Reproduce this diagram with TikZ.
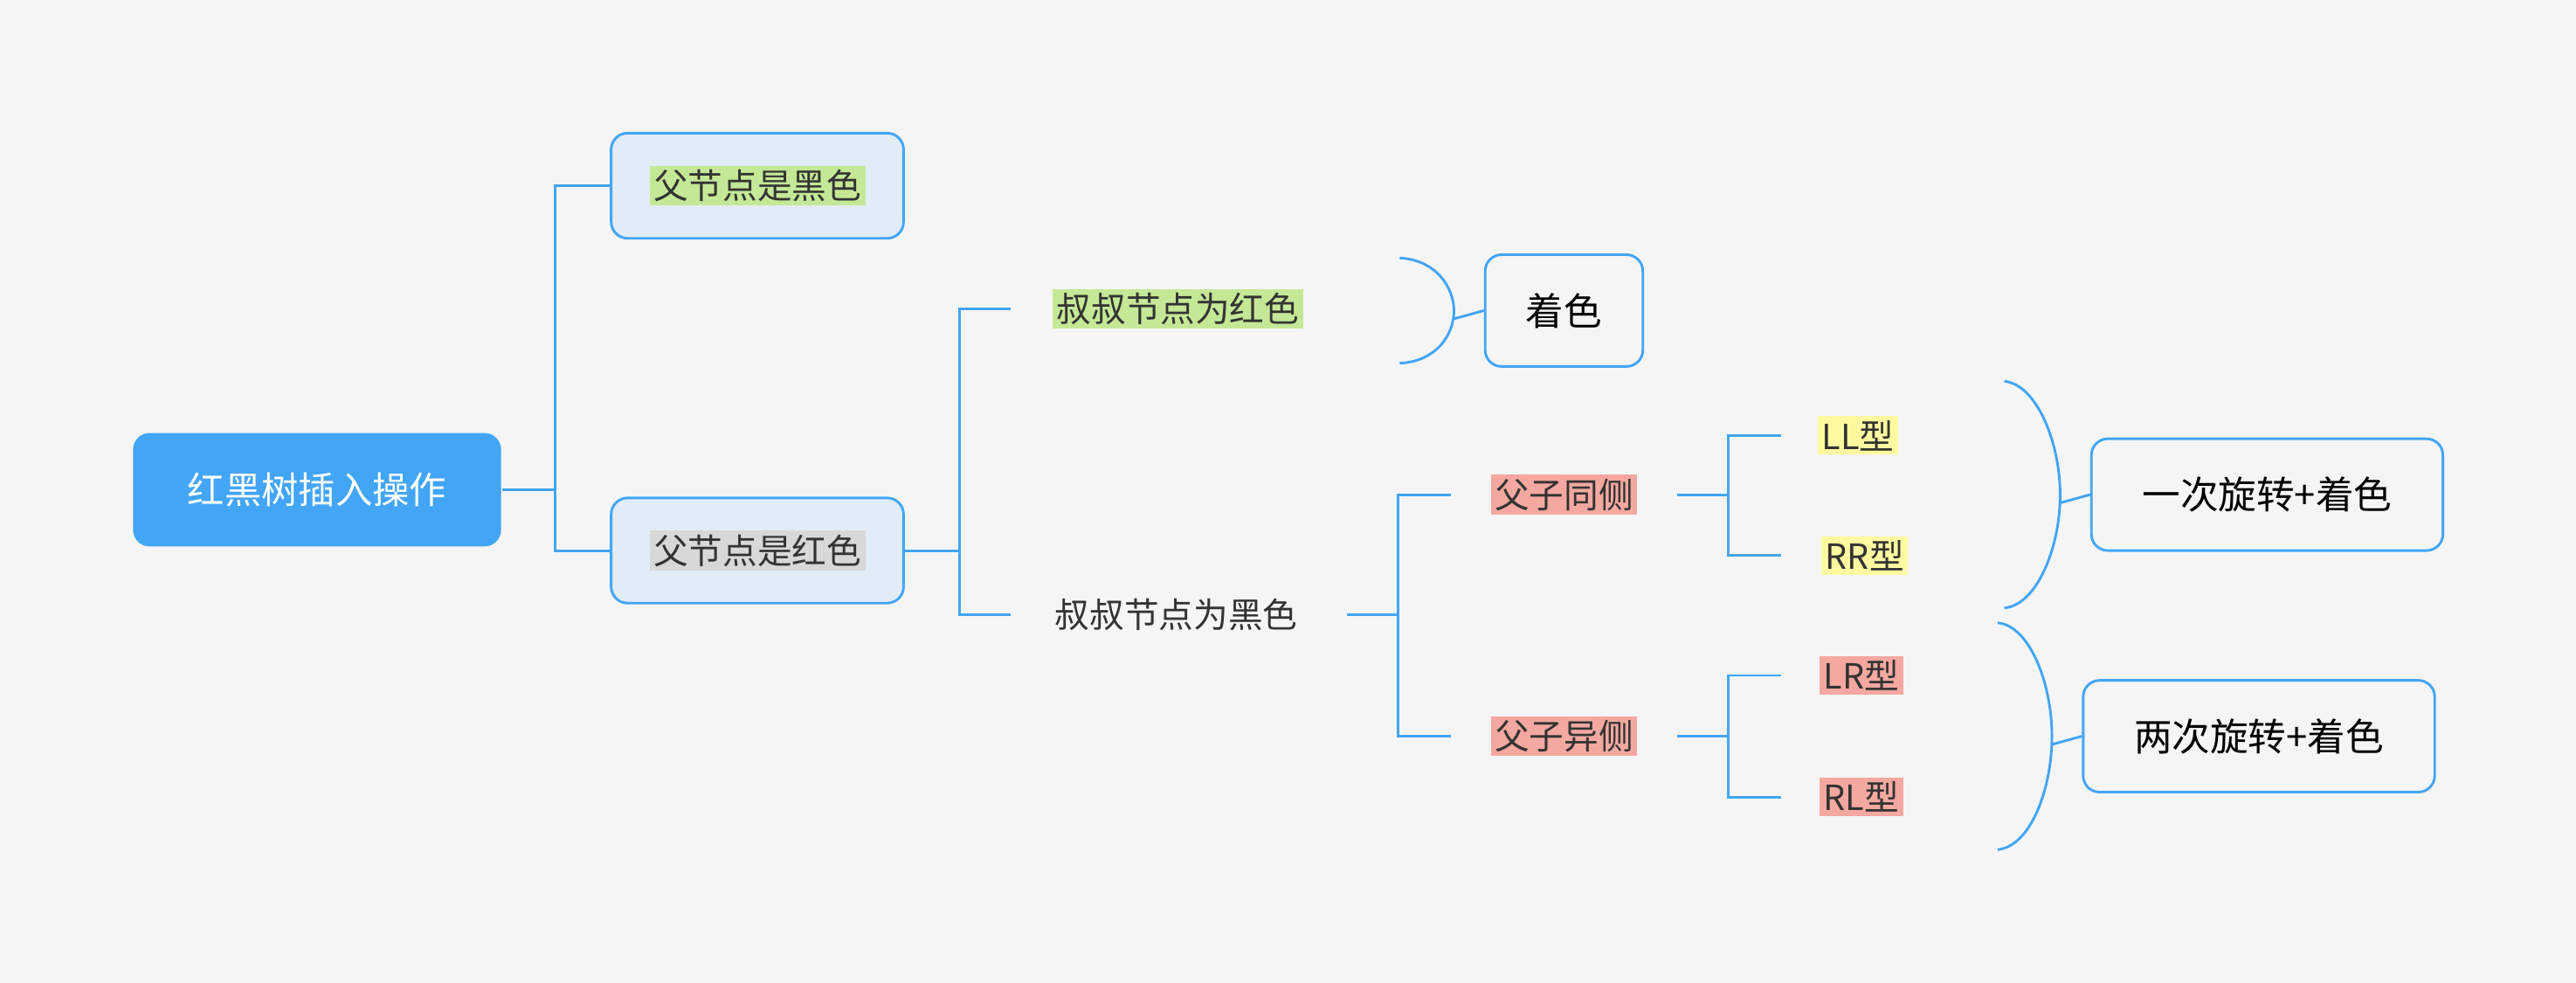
\documentclass[tikz,border=0pt]{standalone}
\usepackage{fontspec}
\newfontfamily\cjk{Noto Sans CJK SC}
\usetikzlibrary{positioning, calc}
\definecolor{lineblue}{RGB}{66,165,245}
\definecolor{boxfill}{RGB}{226,236,246}
\definecolor{bg}{RGB}{245,245,245}
\definecolor{hlgreen}{RGB}{197,232,150}
\definecolor{hlgray}{RGB}{216,216,216}
\definecolor{hlred}{RGB}{244,168,160}
\definecolor{hlyellow}{RGB}{255,250,160}
\begin{document}
\begin{tikzpicture}[x=0.5mm, y=-0.5mm, line width=1.6pt, font=\cjk\fontsize{30}{36}\selectfont]
    \tikzstyle{link} = [draw=lineblue, line width=2.2pt]
    \tikzstyle{root} = [rounded corners=5mm, fill=lineblue, text=white, minimum width=112mm, minimum height=34.5mm, font=\cjk\fontsize{32}{38}\selectfont]
    \tikzstyle{sub} = [rounded corners=5mm, draw=lineblue, line width=2.2pt, fill=boxfill, minimum width=89mm, minimum height=32mm]
    \tikzstyle{result} = [rounded corners=5mm, draw=lineblue, line width=2.2pt, fill=bg, minimum height=34mm, font=\cjk\fontsize{33}{40}\selectfont]
    \tikzstyle{tag} = [inner sep=1.2mm, text=black!80]

    % background and margins
    \fill[bg] (0,0) rectangle (1568,598);

    % root and first level
    \node[root] (root) at (193,298) {红黑树插入操作};
    \node[sub] (black) at (461,113) {};
    \node[tag, fill=hlgreen] (blackt) at (461,113) {父节点是黑色};
    \node[sub] (red) at (461,335) {};
    \node[tag, fill=hlgray] (redt) at (461,335) {父节点是红色};

    % second level
    \node[tag, fill=hlgreen] (uncler) at (717,188) {叔叔节点为红色};
    \node[tag] (uncleb) at (716,374) {叔叔节点为黑色};
    \node[result, minimum width=48mm] (color) at (952,189) {着色};

    % third level
    \node[tag, fill=hlred] (same) at (952,301) {父子同侧};
    \node[tag, fill=hlred] (diff) at (952,448) {父子异侧};
    \node[tag, fill=hlyellow] (ll) at (1131,265) {LL型};
    \node[tag, fill=hlyellow] (rr) at (1135,338) {RR型};
    \node[tag, fill=hlred] (lr) at (1133,411) {LR型};
    \node[tag, fill=hlred] (rl) at (1133,485) {RL型};
    \node[result, minimum width=107mm] (once) at (1380,301) {一次旋转+着色};
    \node[result, minimum width=107mm] (twice) at (1375,448) {两次旋转+着色};

    % connectors
    \draw[link] (root.east) -- (338,298);
    \draw[link] (371,113) -| (338,335) -- (red.west);
    \draw[link] (red.east) -- (584,335);
    \draw[link] (615,188) -| (584,374) -- (615,374);
    \draw[link] (820,374) -- (851,374);
    \draw[link] (883,301) -| (851,448) -- (883,448);
    \draw[link] (1021,301) -- (1052,301);
    \draw[link] (1084,265) -| (1052,338) -- (1084,338);
    \draw[link] (1021,448) -- (1052,448);
    \draw[link] (1084,411) -| (1052,485) -- (1084,485);

    % braces
    \draw[link] (852,157) .. controls (874,158) and (885,175) .. (885,189) .. controls (885,204) and (874,220) .. (852,221);
    \draw[link] (885,194) -- (color.west);
    \draw[link] (1220,232) .. controls (1240,234) and (1254,270) .. (1254,301) .. controls (1254,333) and (1240,368) .. (1220,370);
    \draw[link] (1254,306) -- (once.west);
    \draw[link] (1216,379) .. controls (1236,381) and (1249,417) .. (1249,448) .. controls (1249,480) and (1236,515) .. (1216,517);
    \draw[link] (1249,453) -- (twice.west);
\end{tikzpicture}
\end{document}
